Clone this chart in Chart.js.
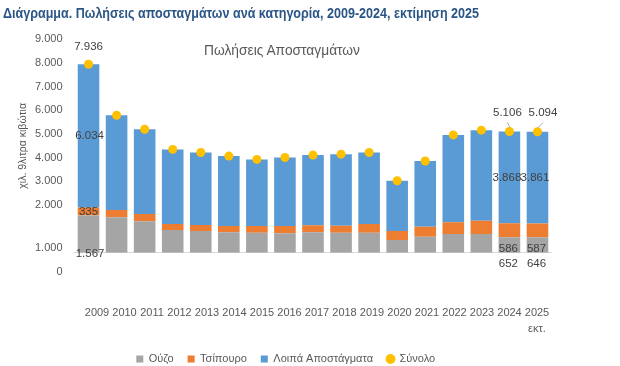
<!DOCTYPE html>
<html>
<head>
<meta charset="utf-8">
<script src="https://cdn.jsdelivr.net/npm/chart.js@4.4.1/dist/chart.umd.min.js"></script>
<style>
  html, body { margin: 0; padding: 0; background: #ffffff; }
  #wrap { position: relative; width: 620px; height: 366px; overflow: hidden; }
  .fit { position: absolute; white-space: nowrap; transform-origin: 0 50%; font-family: "Liberation Sans", Arial, sans-serif; line-height: 1; }
  #heading { left: 3px; top: 6px; font-weight: bold; font-size: 14px; color: #2a5686; }
  #sub { left: 204px; top: 42px; font-size: 15px; color: #595959; }
  canvas { position: absolute; left: 0; top: 0; }
</style>
</head>
<body>
<div id="wrap">
  <canvas id="c" width="620" height="366"></canvas>
  <div id="heading" class="fit" data-w="476">Διάγραμμα. Πωλήσεις αποσταγμάτων ανά κατηγορία, 2009-2024, εκτίμηση 2025</div>
  <div id="sub" class="fit" data-w="156">Πωλήσεις Αποσταγμάτων</div>
</div>
<script>
// ---- data (thousand 9-litre cases) ----
const years = ['2009','2010','2011','2012','2013','2014','2015','2016','2017','2018','2019','2020','2021','2022','2023','2024','2025'];
const estimateNote = 'εκτ.';
const ouzo      = [1567, 1490, 1320, 955, 915, 860, 840, 815, 860, 840, 840, 535, 675, 790, 790, 652, 646];
const tsipouro  = [335, 310, 310, 255, 255, 265, 280, 305, 295, 295, 365, 380, 420, 490, 560, 586, 587];
const others    = [6034, 3990, 3570, 3140, 3050, 2945, 2810, 2890, 2955, 3015, 3015, 2115, 2765, 3680, 3810, 3868, 3861];
const totals    = [7936, 5790, 5200, 4350, 4220, 4070, 3930, 4010, 4110, 4150, 4220, 3030, 3860, 4960, 5160, 5106, 5094];
const yTickValues = [-800, 200, 2000, 3000, 4000, 5000, 6000, 7000, 8000, 9000];
const yTickLabels = ['0', '1.000', '2.000', '3.000', '4.000', '5.000', '6.000', '7.000', '8.000', '9.000'];
const labelledYears = ['2009', '2024', '2025'];
const seriesNames = ['Ούζο', 'Τσίπουρο', 'Λοιπά Αποστάγματα', 'Σύνολο'];

// condense the HTML headings to the reference's narrow type width
document.querySelectorAll('.fit').forEach(el => {
  const w = el.getBoundingClientRect().width;
  el.style.transform = 'scaleX(' + (Number(el.dataset.w) / w) + ')';
});

const FONT = '"Liberation Sans", Arial, sans-serif';
const fmt = v => String(v).replace(/\B(?=(\d{3})+(?!\d))/g, '.');

const valueLabels = {
  id: 'valueLabels',
  afterDatasetsDraw(chart) {
    const ctx = chart.ctx;
    const ys = chart.scales.y;
    const base = ys.getPixelForValue(0);
    ctx.save();
    ctx.font = '11.5px ' + FONT;
    ctx.fillStyle = '#404040';
    ctx.textAlign = 'center';
    ctx.textBaseline = 'middle';
    labelledYears.forEach(yr => {
      const i = years.indexOf(yr);
      const bx = chart.getDatasetMeta(0).data[i].x;
      const ouzoTop = ys.getPixelForValue(ouzo[i]);
      const tsTop = ys.getPixelForValue(ouzo[i] + tsipouro[i]);
      const top = ys.getPixelForValue(totals[i]);
      const first = i === 0;
      const last = i === years.length - 1;
      // total
      const tdx = first ? 0 : (last ? 5.5 : -2);
      const tdy = first ? -17.3 : -18.5;
      ctx.fillText(fmt(totals[i]), bx + tdx, top + tdy);
      if (!first) {
        ctx.strokeStyle = '#a6a6a6';
        ctx.lineWidth = 1;
        ctx.beginPath();
        ctx.moveTo(bx + tdx, top - 9);
        ctx.lineTo(bx + 0.5, top - 4);
        ctx.stroke();
      }
      // others
      ctx.fillText(fmt(others[i]), bx + (first ? 1 : -2.5), (top + tsTop) / 2);
      // tsipouro
      ctx.fillText(fmt(tsipouro[i]), bx + (first ? 0 : -1), first ? (tsTop + ouzoTop) / 2 : base - 4);
      // ouzo
      ctx.fillText(fmt(ouzo[i]), bx + (first ? 1.5 : -1), first ? base + 1.5 : base + 11.6);
    });
    ctx.restore();
  }
};

new Chart(document.getElementById('c'), {
  data: {
    labels: years,
    datasets: [
      { type: 'bar', label: seriesNames[0], data: ouzo, backgroundColor: '#a5a5a5', stack: 'bars', order: 1, pointStyle: 'rect' },
      { type: 'bar', label: seriesNames[1], data: tsipouro, backgroundColor: '#ed7d31', stack: 'bars', order: 1, pointStyle: 'rect' },
      { type: 'bar', label: seriesNames[2], data: others, backgroundColor: '#5b9bd5', stack: 'bars', order: 1, pointStyle: 'rect' },
      { type: 'line', label: seriesNames[3], data: totals, stack: 'total', order: 0, showLine: false,
        pointStyle: 'circle', pointRadius: 4.5, pointHoverRadius: 4.5, pointBackgroundColor: '#ffc000',
        pointBorderWidth: 0, backgroundColor: '#ffc000', borderColor: '#ffc000' }
    ]
  },
  options: {
    responsive: false,
    animation: false,
    layout: { padding: { left: 20, right: 68.5, top: 39, bottom: -8.5 } },
    datasets: { bar: { categoryPercentage: 1, barPercentage: 0.77 } },
    plugins: {
      legend: {
        position: 'bottom',
        labels: {
          usePointStyle: true, boxWidth: 7, boxHeight: 7, padding: 14,
          color: '#595959', font: { family: FONT, size: 11 },
          sort: (a, b) => a.datasetIndex - b.datasetIndex
        }
      },
      tooltip: { enabled: false },
      title: { display: false }
    },
    scales: {
      x: {
        stacked: true,
        display: false
      },
      xLabels: {
        type: 'linear',
        position: 'bottom',
        min: -0.818, max: 16.527,
        grid: { display: false, drawTicks: false },
        border: { display: true, color: '#d9d9d9', width: 1 },
        ticks: {
          color: '#595959', font: { family: FONT, size: 11, lineHeight: 1.48 }, padding: 51.8,
          maxRotation: 0, autoSkip: false,
          callback: function(v) { const i = Math.round(v); return i === years.length - 1 ? [years[i], estimateNote] : years[i]; }
        },
        afterBuildTicks: s => { s.ticks = years.map((_, i) => ({ value: i })); },
        afterFit: s => { s.height = 86.8; }
      },
      y: {
        stacked: true,
        min: 0, max: 9000,
        grid: { display: false, drawTicks: false },
        border: { display: false },
        title: { display: true, text: 'χιλ. 9λιτρα κιβώτια', color: '#595959', font: { family: FONT, size: 10.5 }, padding: { top: -3, bottom: 0 } },
        ticks: {
          color: '#595959', font: { family: FONT, size: 11 }, padding: 12, autoSkip: false,
          callback: function(v) { const k = yTickValues.indexOf(v); return k >= 0 ? yTickLabels[k] : ''; }
        },
        afterBuildTicks: s => { s.ticks = yTickValues.map(v => ({ value: v })); },
        afterFit: s => { s.width = 54.5; }
      }
    }
  },
  plugins: [valueLabels]
});
</script>
</body>
</html>
